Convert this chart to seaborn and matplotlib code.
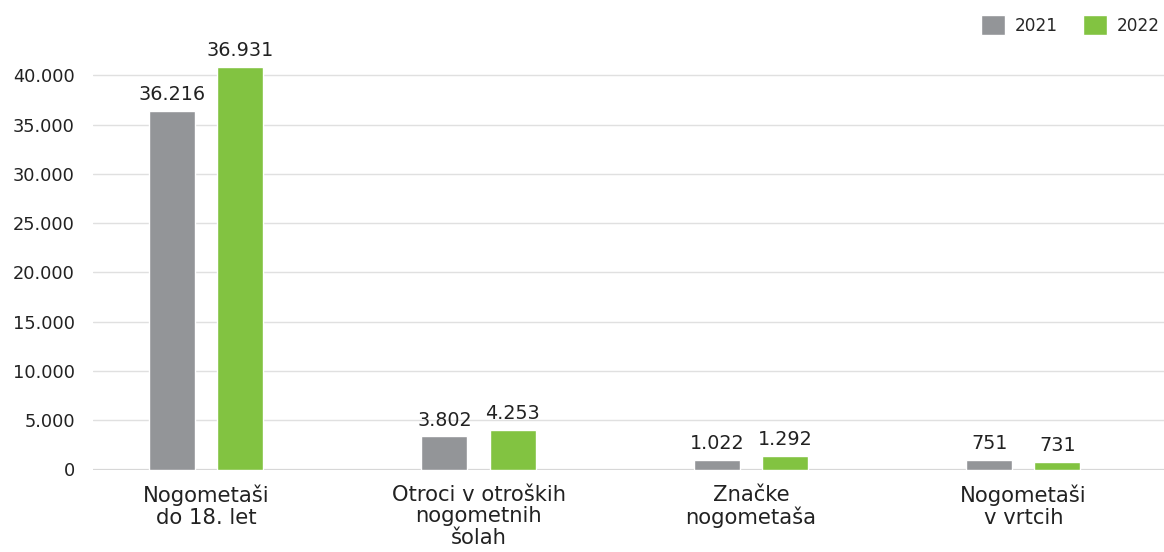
import pandas as pd
import seaborn as sns
import matplotlib.pyplot as plt

kategorije = ['Nogometaši\ndo 18. let', 'Otroci v otroških\nnogometnih\nšolah',
              'Značke\nnogometaša', 'Nogometaši\nv vrtcih']
leta = ['2021', '2022']
# visine stolpcev, kot so narisane na sliki
visine_2021 = [36400, 3350, 950, 1000]
visine_2022 = [40800, 4050, 1350, 800]
# vrednosti, ki so izpisane nad stolpci
oznake_2021 = [36216, 3802, 1022, 751]
oznake_2022 = [36931, 4253, 1292, 731]
barve = ['#939598', '#82c341']

df = pd.DataFrame({
    'kategorija': kategorije * 2,
    'leto': [leta[0]] * 4 + [leta[1]] * 4,
    'vrednost': visine_2021 + visine_2022,
})


def fmt(v):
    return f'{v:,}'.replace(',', '.')


sns.set_style('white')
plt.rcParams['font.family'] = ['DejaVu Sans']

fig = plt.figure(figsize=(11.64, 5.52), dpi=100)
ax = fig.add_axes([93 / 1164, 82.5 / 552, 1 - 93 / 1164, 414 / 552])

sns.barplot(data=df, x='kategorija', y='vrednost', hue='leto', palette=barve,
            width=0.5, gap=0.325, ax=ax, saturation=1)

ax.set_xlim(-0.415, 3.516)
ax.set_ylim(0, 42000)
ax.set_yticks(range(0, 40001, 5000))
ax.set_yticklabels([fmt(v) for v in range(0, 40001, 5000)], fontsize=12.8, color='#222222')
ax.set_xlabel('')
ax.set_ylabel('')
ax.tick_params(axis='x', length=0, pad=11, labelsize=15.2, labelcolor='#222222')
ax.tick_params(axis='y', length=0, pad=13)
for lab in ax.get_xticklabels():
    lab.set_linespacing(1.1)

ax.yaxis.grid(True, color='#e0e0e0', lw=1)
ax.set_axisbelow(True)
sns.despine(ax=ax, left=True, bottom=True)
ax.axhline(0, color='#d6d6d6', lw=1.6, zorder=0.5)

for cont, oznake in zip(ax.containers, [oznake_2021, oznake_2022]):
    ax.bar_label(cont, labels=[fmt(v) for v in oznake], padding=5,
                 fontsize=13.8, color='#222222')

handles, labels = ax.get_legend_handles_labels()
ax.legend(handles, labels, loc='center right', bbox_to_anchor=(1160 / 1164, 1 - 25 / 552),
          bbox_transform=fig.transFigure, ncol=2, frameon=False, fontsize=12.2,
          handlelength=1.4, handleheight=1.4, handletextpad=0.6,
          columnspacing=1.5, borderpad=0, borderaxespad=0)

fig.savefig('out.png', dpi=100)
